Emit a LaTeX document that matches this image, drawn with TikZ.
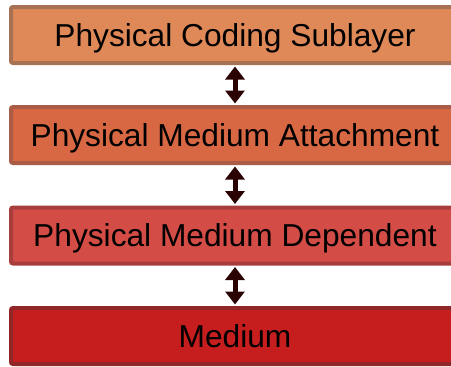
\documentclass[tikz,border=0pt]{standalone}
\usepackage{fontspec}
\setmainfont{Liberation Sans}
\usetikzlibrary{arrows.meta}

\definecolor{pcsfill}{RGB}{224,137,88}
\definecolor{pcsline}{RGB}{167,114,84}
\definecolor{pmafill}{RGB}{216,104,67}
\definecolor{pmaline}{RGB}{170,92,70}
\definecolor{pmdfill}{RGB}{212,76,70}
\definecolor{pmdline}{RGB}{168,62,60}
\definecolor{medfill}{RGB}{198,30,30}
\definecolor{medline}{RGB}{145,38,40}
\definecolor{arrowc}{RGB}{42,2,2}

\tikzset{
  layer/.style={draw=#1line, fill=#1fill, line width=4pt, rounded corners=2pt,
    minimum width=448pt, minimum height=56pt, inner sep=0pt,
    font=\fontsize{31.7}{31.7}\selectfont, text=black,
    text height=22.5pt, text depth=0pt},
  link/.style={draw=arrowc, line width=5pt,
    {Triangle[width=19pt,length=13pt]}-{Triangle[width=19pt,length=13pt]},
    shorten <=1.5pt, shorten >=1.5pt}
}

\begin{document}
\begin{tikzpicture}[x=1pt,y=-1pt]
  \useasboundingbox (0,0) rectangle (451,367);
  \node[layer=pcs] (pcs) at (235,35)    {Physical Coding Sublayer};
  \node[layer=pma] (pma) at (235,135)   {Physical Medium Attachment};
  \node[layer=pmd] (pmd) at (235,235.5) {Physical Medium Dependent};
  \node[layer=med] (med) at (235,336)   {Medium};
  \draw[link] (pcs.south) -- (pma.north);
  \draw[link] (pma.south) -- (pmd.north);
  \draw[link] (pmd.south) -- (med.north);
\end{tikzpicture}
\end{document}
